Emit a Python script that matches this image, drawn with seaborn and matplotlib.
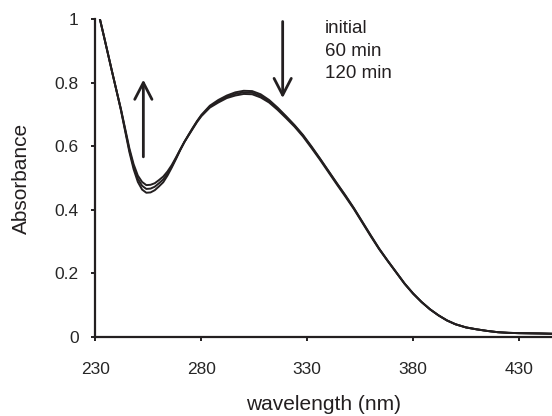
import numpy as np
import matplotlib
matplotlib.use("Agg")
import matplotlib.pyplot as plt
import seaborn as sns
import pandas as pd

# wavelength (nm) and absorbance
wavelength = [230, 232, 234, 236, 238, 240, 242, 244, 246, 248, 250, 252, 254, 256,
              258, 260, 262, 264, 266, 268, 270, 272, 274, 276, 278, 280, 284, 288,
              292, 296, 300, 304, 308, 312, 316, 320, 324, 328, 332, 336, 340, 344,
              348, 352, 356, 360, 364, 368, 372, 376, 380, 384, 388, 392, 396, 400,
              405, 410, 415, 420, 425, 430, 440, 446]

abs_initial = [1.060, 1.003, 0.946, 0.888, 0.830, 0.773, 0.714, 0.648, 0.582, 0.528,
               0.488, 0.464, 0.454, 0.455, 0.462, 0.474, 0.487, 0.508, 0.533, 0.560,
               0.588, 0.614, 0.637, 0.659, 0.680, 0.699, 0.728, 0.746, 0.760, 0.770,
               0.775, 0.774, 0.764, 0.746, 0.722, 0.695, 0.667, 0.636, 0.600, 0.562,
               0.523, 0.484, 0.446, 0.406, 0.363, 0.320, 0.278, 0.240, 0.204, 0.168,
               0.137, 0.110, 0.087, 0.068, 0.052, 0.040, 0.030, 0.024, 0.019, 0.015,
               0.013, 0.012, 0.011, 0.010]

abs_60min = [1.060, 1.003, 0.946, 0.888, 0.830, 0.773, 0.716, 0.652, 0.588, 0.536,
             0.498, 0.476, 0.466, 0.467, 0.473, 0.484, 0.496, 0.514, 0.537, 0.562,
             0.589, 0.614, 0.636, 0.658, 0.679, 0.697, 0.725, 0.742, 0.756, 0.765,
             0.770, 0.769, 0.759, 0.742, 0.719, 0.693, 0.665, 0.634, 0.598, 0.561,
             0.522, 0.483, 0.445, 0.405, 0.362, 0.319, 0.277, 0.240, 0.204, 0.168,
             0.137, 0.110, 0.087, 0.068, 0.052, 0.040, 0.030, 0.024, 0.019, 0.015,
             0.013, 0.012, 0.011, 0.010]

abs_120min = [1.060, 1.003, 0.946, 0.888, 0.830, 0.773, 0.718, 0.656, 0.594, 0.544,
              0.508, 0.488, 0.478, 0.479, 0.484, 0.494, 0.505, 0.521, 0.541, 0.565,
              0.590, 0.614, 0.635, 0.656, 0.677, 0.695, 0.722, 0.738, 0.752, 0.760,
              0.765, 0.764, 0.754, 0.738, 0.715, 0.689, 0.662, 0.631, 0.595, 0.558,
              0.519, 0.480, 0.442, 0.403, 0.360, 0.317, 0.276, 0.239, 0.203, 0.167,
              0.136, 0.110, 0.087, 0.068, 0.052, 0.040, 0.030, 0.024, 0.019, 0.015,
              0.013, 0.012, 0.011, 0.010]

series_labels = ["initial", "60 min", "120 min"]
x_ticks = [230, 280, 330, 380, 430]
y_ticks = [0, 0.2, 0.4, 0.6, 0.8, 1]
y_ticklabels = ["0", "0.2", "0.4", "0.6", "0.8", "1"]

# table long format pour seaborn
df = pd.concat([
    pd.DataFrame({"wavelength": wavelength, "absorbance": vals, "time": lab})
    for vals, lab in zip([abs_initial, abs_60min, abs_120min], series_labels)
])

sns.set_style("ticks")
plt.rcParams["font.family"] = ["Liberation Sans", "DejaVu Sans"]
ink = "#231f20"

fig = plt.figure(figsize=(5.52, 4.16), dpi=100)
ax = fig.add_axes([0.173, 0.19, 0.827, 0.7636])

sns.lineplot(data=df, x="wavelength", y="absorbance", hue="time",
             palette=[ink] * 3, linewidth=1.4, legend=False, ax=ax)

ax.set_xlim(230, 445.6)
ax.set_ylim(0, 1)
ax.set_xticks(x_ticks)
ax.set_yticks(y_ticks)
ax.set_yticklabels(y_ticklabels)
ax.tick_params(axis="x", length=3, width=1.4, color=ink, labelsize=12.5, pad=15)
ax.tick_params(axis="y", length=3, width=1.4, color=ink, labelsize=12.5, pad=9)
for side in ["left", "bottom"]:
    ax.spines[side].set_linewidth(1.6)
    ax.spines[side].set_color(ink)
sns.despine(ax=ax)

ax.set_xlabel("wavelength (nm)", fontsize=15, color=ink, labelpad=13)
ax.set_ylabel("Absorbance", fontsize=15, color=ink, labelpad=17)

# fleches : evolution au minimum et au maximum
arrow = dict(arrowstyle="->,head_length=1.2,head_width=0.62", lw=2.0, color=ink,
             shrinkA=0, shrinkB=0)
ax.annotate("", xy=(252.6, 0.81), xytext=(252.6, 0.567), arrowprops=arrow)
ax.annotate("", xy=(318.4, 0.752), xytext=(318.4, 0.993), arrowprops=arrow)

for lab, yy in zip(series_labels, [0.972, 0.899, 0.828]):
    ax.text(338.4, yy, lab, fontsize=13.5, color=ink, ha="left", va="center")

fig.savefig("out.png", dpi=100)
